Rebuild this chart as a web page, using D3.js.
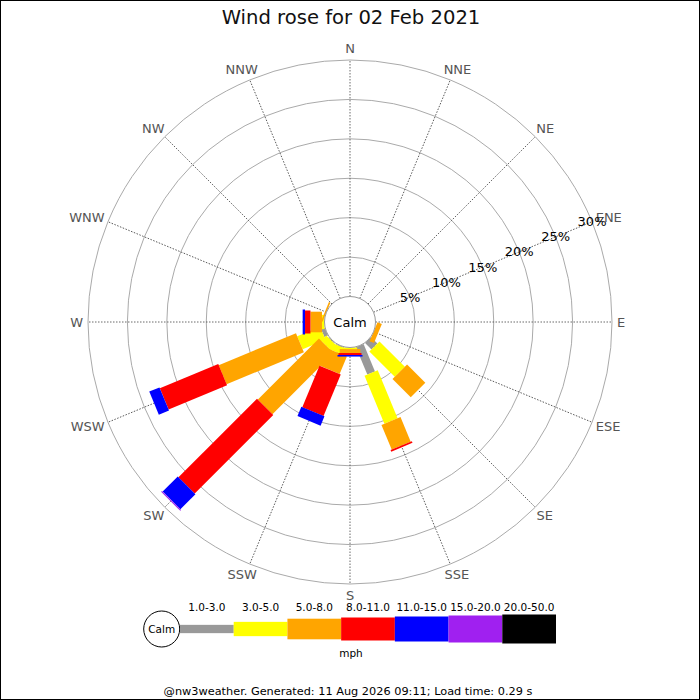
<!DOCTYPE html>
<html>
<head>
<meta charset="utf-8">
<script src="https://cdn.jsdelivr.net/npm/d3@7"></script>
<style>
  body { margin: 0; background: #fff; }
  text { font-family: "DejaVu Sans", sans-serif; }
</style>
</head>
<body>
<svg id="rose" width="700" height="700"></svg>
<script>
// directions, clockwise from north
var dirs = ["N","NNE","NE","ENE","E","ESE","SE","SSE","S","SSW","SW","WSW","W","WNW","NW","NNW"];
// speed bins (mph)
var bins = ["1.0-3.0","3.0-5.0","5.0-8.0","8.0-11.0","11.0-15.0","15.0-20.0","20.0-50.0"];
// percent of time per direction for each bin
var gray   = [0,0,0,0,0,0,1.15,3.77,0,0.1,0.1,0.5,0,0,0,0];
var yellow = [0,0,0,0,0,0,4.55,6.58,0.2,0.85,0.93,3.14,0.32,0,0,0];
var orange = [0,0,0,0,0,0.6,3.27,3.39,0.5,2.41,10.96,10.61,1.46,0.2,0,0];
var red    = [0,0,0,0,0,0,0,0.22,0.25,5.7,14.09,8.02,0.69,0,0,0];
var blue   = [0,0,0,0,0,0,0,0,0.2,1.28,2.7,1.4,0.3,0,0,0];
var purple = [0,0,0,0,0,0,0,0,0,0,0.15,0,0,0,0,0];
var black  = [0,0,0,0,0,0,0,0,0,0,0,0,0,0,0,0];
// ring ticks
var ringTicks = [5,10,15,20,25,30];
var title = "Wind rose for 02 Feb 2021";
var footer = "@nw3weather. Generated: 11 Aug 2026 09:11; Load time: 0.29 s";

var series = [gray, yellow, orange, red, blue, purple, black];
var binColors = ["#999999","#ffff00","#ffa500","#ff0000","#0000ff","#a020f0","#000000"];
var binWidths = [8.3, 14.3, 20.6, 23, 25, 27, 29];

window.onload = function(){
    drawRose();
    drawLegend();
};

function drawRose(){
    let svg = d3.select("#rose");
    let cx = 350, cy = 322;

    svg.append("rect").attr("x",0.5).attr("y",0.5).attr("width",699).attr("height",699)
        .attr("fill","#fff").attr("stroke","#000").attr("stroke-width",1);

    svg.append("text").attr("x",351).attr("y",24).attr("text-anchor","middle")
        .attr("font-size","19.6px").attr("fill","#111").text(title);

    let rScale = d3.scaleLinear().domain([0,30]).range([25.5,262]);
    let aScale = d3.scaleLinear().domain([0,dirs.length]).range([0,360]);

    let g = svg.append("g").attr("transform","translate("+cx+","+cy+")");

    // grid rings
    g.selectAll("circle.ring").data(ringTicks).enter()
        .append("circle").attr("class","ring")
        .attr("r", function(d){ return rScale(d); })
        .attr("fill","none").attr("stroke","#aaa").attr("stroke-width",1);

    // spokes
    g.selectAll("line.spoke").data(dirs).enter()
        .append("line").attr("class","spoke")
        .attr("x1",0).attr("y1",-rScale(0)).attr("x2",0).attr("y2",-rScale(30))
        .attr("transform", function(d,i){ return "rotate("+aScale(i)+")"; })
        .attr("stroke","#444").attr("stroke-width",0.8).attr("stroke-dasharray","1.5,1.5");

    // direction labels: pushed outwards by half their box so they sit just off the ring
    let labR = rScale(30) + 5;
    g.selectAll("text.dir").data(dirs).enter()
        .append("text").attr("class","dir")
        .attr("text-anchor","middle").attr("dominant-baseline","central")
        .attr("font-size","13px").attr("fill","#555").text(function(d){ return d; })
        .each(function(d,i){
            let a = aScale(i)*Math.PI/180;
            let w = this.getComputedTextLength();
            d3.select(this)
                .attr("x", labR*Math.sin(a) + w/2*Math.sin(a))
                .attr("y", -labR*Math.cos(a) - 6.5*Math.cos(a));
        });

    // stacked bars
    let rows = dirs.map(function(d,i){
        let row = {dir:d};
        bins.forEach(function(b,j){ row[b] = series[j][i]; });
        return row;
    });
    let stacked = d3.stack().keys(bins)(rows);

    stacked.forEach(function(layer,j){
        let segs = layer.filter(function(d){ return d[1] > d[0]; });
        g.append("g").selectAll("rect").data(segs).enter()
            .append("rect")
            .attr("x", -binWidths[j]/2)
            .attr("width", binWidths[j])
            .attr("y", function(d){ return -rScale(d[1]); })
            .attr("height", function(d){ return rScale(d[1]) - rScale(d[0]); })
            .attr("transform", function(d){ return "rotate("+aScale(dirs.indexOf(d.data.dir))+")"; })
            .attr("fill", binColors[j]);
    });

    // calm circle
    g.append("circle").attr("r",rScale(0)).attr("fill","#fff").attr("stroke","#999").attr("stroke-width",1);
    g.append("text").attr("x",0).attr("y",0).attr("text-anchor","middle").attr("dominant-baseline","central")
        .attr("font-size","13px").attr("fill","#000").text("Calm");

    // ring labels along ENE
    let ang = aScale(3)*Math.PI/180;
    g.selectAll("text.tick").data(ringTicks).enter()
        .append("text").attr("class","tick")
        .attr("x", function(d){ return rScale(d)*Math.sin(ang); })
        .attr("y", function(d){ return -rScale(d)*Math.cos(ang); })
        .attr("text-anchor","middle").attr("dominant-baseline","central")
        .attr("font-size","13px").attr("fill","#000").text(function(d){ return d+"%"; });
}

function drawLegend(){
    let svg = d3.select("#rose");
    let ly = 629;
    let xBand = d3.scaleBand().domain(bins).range([180,556]);

    svg.append("circle").attr("cx",161.7).attr("cy",ly).attr("r",18)
        .attr("fill","#fff").attr("stroke","#000").attr("stroke-width",1);
    svg.append("text").attr("x",161.7).attr("y",ly).attr("text-anchor","middle").attr("dominant-baseline","central")
        .attr("font-size","10.5px").text("Calm");

    svg.selectAll("rect.leg").data(bins).enter()
        .append("rect").attr("class","leg")
        .attr("x", function(d){ return xBand(d); })
        .attr("width", xBand.bandwidth())
        .attr("y", function(d,i){ return ly - binWidths[i]/2; })
        .attr("height", function(d,i){ return binWidths[i]; })
        .attr("fill", function(d,i){ return binColors[i]; });

    svg.selectAll("text.leg").data(bins).enter()
        .append("text").attr("class","leg")
        .attr("x", function(d){ return xBand(d) + xBand.bandwidth()/2; })
        .attr("y", 611).attr("text-anchor","middle")
        .attr("font-size","10.5px").attr("fill","#000").text(function(d){ return d; });

    svg.append("text").attr("x",351).attr("y",657).attr("text-anchor","middle")
        .attr("font-size","10.5px").text("mph");

    svg.append("text").attr("x",348).attr("y",695).attr("text-anchor","middle")
        .attr("font-size","11.3px").attr("fill","#000").text(footer);
}
</script>
</body>
</html>
